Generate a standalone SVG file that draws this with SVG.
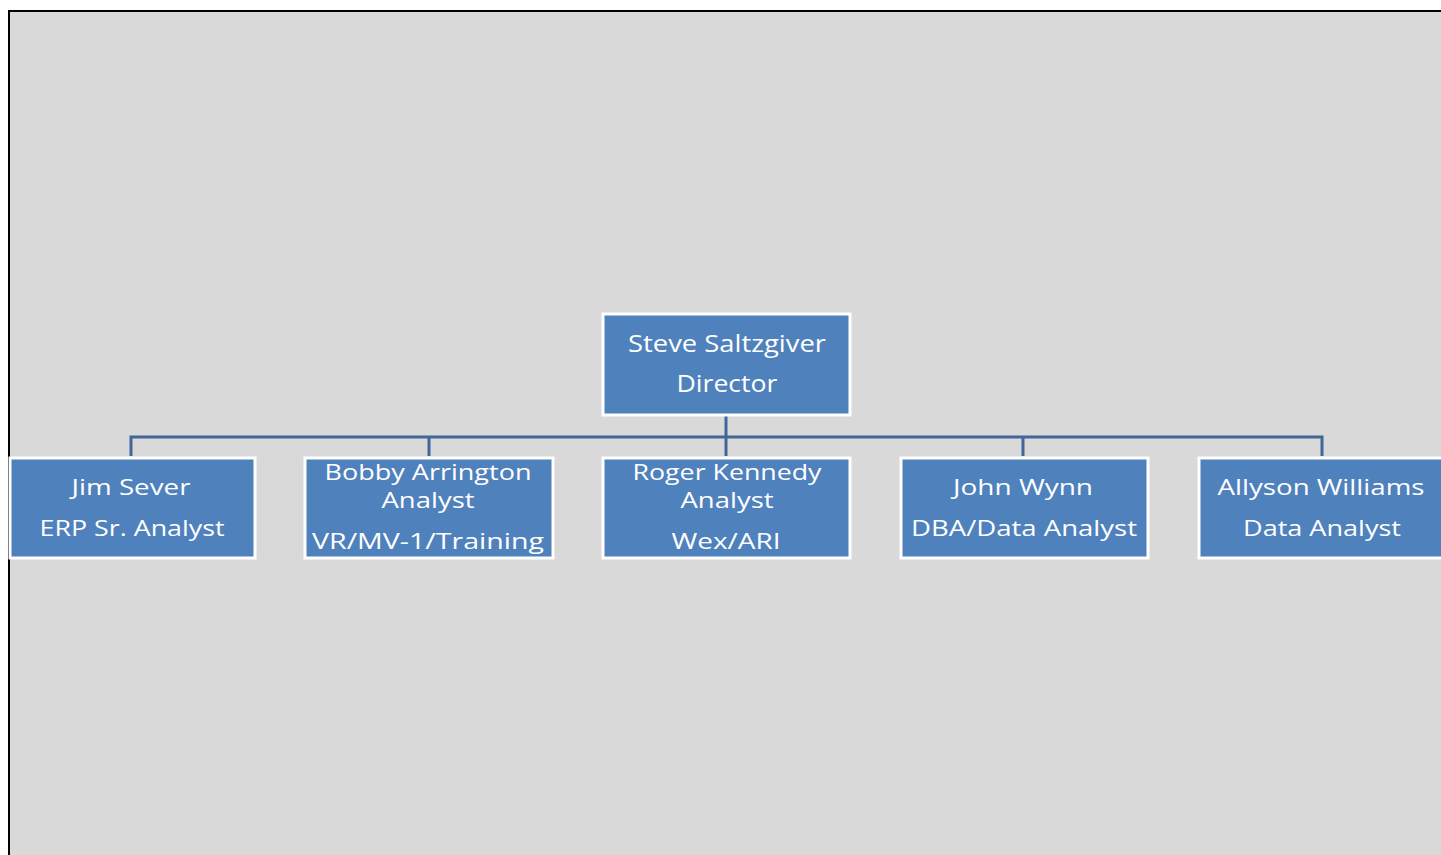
<svg xmlns="http://www.w3.org/2000/svg" width="1441" height="855" viewBox="0 0 1441 855">
<style>
.box{fill:#4f81bd;stroke:#ffffff;stroke-width:3}
.t{font-family:"Open Sans","Liberation Sans",sans-serif;font-size:22px;fill:#ffffff;text-anchor:middle}
.d{font-size:23px}
.c{fill:none;stroke:#41679a;stroke-width:3}
</style>
<rect x="0" y="0" width="1441" height="855" fill="#ffffff"/>
<rect x="9" y="11" width="1440" height="850" fill="#d9d9d9" stroke="#000000" stroke-width="2"/>
<g id="connectors">
<path class="c" d="M726,416 V456"/>
<path class="c" d="M131,456 V437 H1322 V456"/>
<path class="c" d="M429,437 V456"/>
<path class="c" d="M1023,437 V456"/>
</g>
<g id="n-steve">
<rect class="box" x="603" y="314" width="247" height="101"/>
<text class="t d" x="727" y="352" textLength="198" lengthAdjust="spacingAndGlyphs">Steve Saltzgiver</text>
<text class="t d" x="727" y="392" textLength="101" lengthAdjust="spacingAndGlyphs">Director</text>
</g>
<g id="n-jim">
<rect class="box" x="10" y="458" width="245" height="100"/>
<text class="t" x="131" y="495" textLength="119" lengthAdjust="spacingAndGlyphs">Jim Sever</text>
<text class="t" x="132" y="536" textLength="185" lengthAdjust="spacingAndGlyphs">ERP Sr. Analyst</text>
</g>
<g id="n-bobby">
<rect class="box" x="305" y="458" width="248" height="100"/>
<text class="t" x="428" y="480" textLength="207" lengthAdjust="spacingAndGlyphs">Bobby Arrington</text>
<text class="t" x="428" y="508" textLength="93" lengthAdjust="spacingAndGlyphs">Analyst</text>
<text class="t" x="428" y="549" textLength="232" lengthAdjust="spacingAndGlyphs">VR/MV-1/Training</text>
</g>
<g id="n-roger">
<rect class="box" x="603" y="458" width="247" height="100"/>
<text class="t" x="727" y="480" textLength="189" lengthAdjust="spacingAndGlyphs">Roger Kennedy</text>
<text class="t" x="727" y="508" textLength="93" lengthAdjust="spacingAndGlyphs">Analyst</text>
<text class="t" x="726" y="549" textLength="109" lengthAdjust="spacingAndGlyphs">Wex/ARI</text>
</g>
<g id="n-john">
<rect class="box" x="901" y="458" width="247" height="100"/>
<text class="t" x="1023" y="495" textLength="140" lengthAdjust="spacingAndGlyphs">John Wynn</text>
<text class="t" x="1024" y="536" textLength="226" lengthAdjust="spacingAndGlyphs">DBA/Data Analyst</text>
</g>
<g id="n-allyson">
<rect class="box" x="1199" y="458" width="247" height="100"/>
<text class="t" x="1321" y="495" textLength="207" lengthAdjust="spacingAndGlyphs">Allyson Williams</text>
<text class="t" x="1322" y="536" textLength="158" lengthAdjust="spacingAndGlyphs">Data Analyst</text>
</g>
</svg>
